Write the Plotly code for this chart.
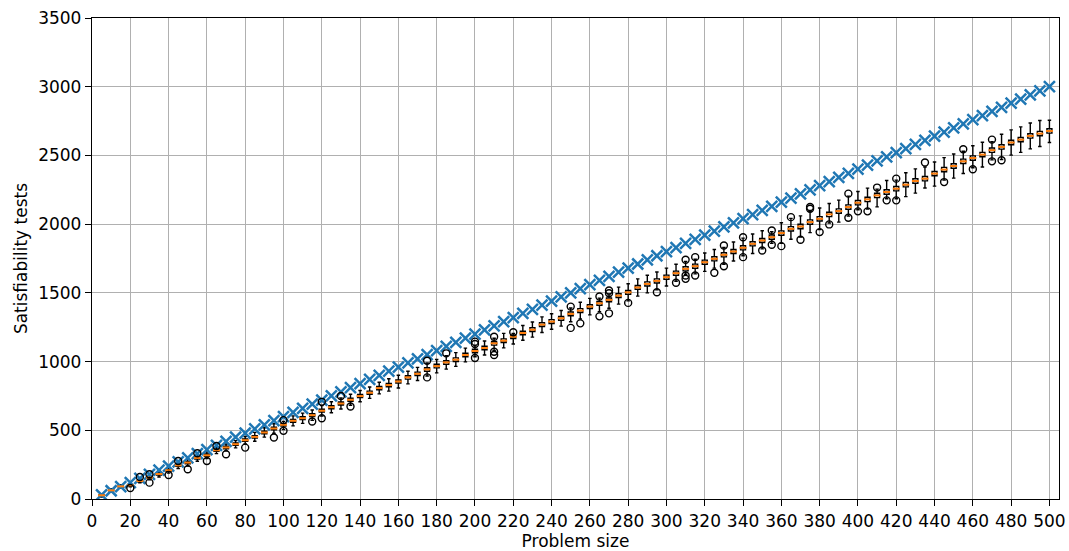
import plotly.graph_objects as go

sizes = [5, 10, 15, 20, 25, 30, 35, 40, 45, 50, 55, 60, 65, 70, 75, 80, 85, 90, 95, 100,
         105, 110, 115, 120, 125, 130, 135, 140, 145, 150, 155, 160, 165, 170, 175, 180, 185, 190, 195, 200,
         205, 210, 215, 220, 225, 230, 235, 240, 245, 250, 255, 260, 265, 270, 275, 280, 285, 290, 295, 300,
         305, 310, 315, 320, 325, 330, 335, 340, 345, 350, 355, 360, 365, 370, 375, 380, 385, 390, 395, 400,
         405, 410, 415, 420, 425, 430, 435, 440, 445, 450, 455, 460, 465, 470, 475, 480, 485, 490, 495, 500]

upper_bound = [30, 60, 90, 120, 150, 180, 210, 240, 270, 300, 330, 360, 390, 420, 450, 480, 510, 540, 570, 600,
               630, 660, 690, 720, 750, 780, 810, 840, 870, 900, 930, 960, 990, 1020, 1050, 1080, 1110, 1140, 1170, 1200,
               1230, 1260, 1290, 1320, 1350, 1380, 1410, 1440, 1470, 1500, 1530, 1560, 1590, 1620, 1650, 1680, 1710, 1740, 1770, 1800,
               1830, 1860, 1890, 1920, 1950, 1980, 2010, 2040, 2070, 2100, 2130, 2160, 2190, 2220, 2250, 2280, 2310, 2340, 2370, 2400,
               2430, 2460, 2490, 2520, 2550, 2580, 2610, 2640, 2670, 2700, 2730, 2760, 2790, 2820, 2850, 2880, 2910, 2940, 2970, 3000]

median = [27, 63, 92, 100, 131, 156, 182, 209, 245, 265, 299, 318, 355, 375, 399, 428, 452, 484, 513, 540,
          569, 588, 610, 642, 668, 695, 722, 749, 773, 807, 829, 855, 885, 911, 943, 967, 994, 1014, 1048, 1077,
          1099, 1133, 1152, 1181, 1208, 1232, 1269, 1291, 1315, 1347, 1371, 1400, 1424, 1449, 1480, 1504, 1539, 1565, 1587, 1614,
          1643, 1675, 1694, 1723, 1748, 1777, 1801, 1828, 1857, 1881, 1905, 1935, 1966, 1983, 2015, 2039, 2071, 2095, 2124, 2156,
          2180, 2209, 2234, 2258, 2287, 2314, 2331, 2368, 2397, 2423, 2457, 2481, 2506, 2538, 2562, 2594, 2615, 2642, 2659, 2678]

q1 = [23, 59, 87, 95, 126, 150, 175, 202, 238, 257, 291, 310, 347, 366, 391, 419, 443, 475, 504, 530,
      559, 578, 600, 632, 657, 684, 711, 738, 762, 795, 817, 843, 872, 898, 930, 954, 981, 1001, 1035, 1064,
      1086, 1120, 1139, 1168, 1195, 1218, 1255, 1277, 1301, 1333, 1357, 1386, 1410, 1435, 1466, 1490, 1525, 1550, 1572, 1599,
      1628, 1660, 1679, 1708, 1733, 1762, 1786, 1813, 1842, 1866, 1890, 1919, 1950, 1967, 1999, 2023, 2055, 2079, 2108, 2140,
      2164, 2193, 2218, 2242, 2271, 2298, 2315, 2352, 2381, 2407, 2441, 2465, 2490, 2522, 2546, 2578, 2599, 2626, 2643, 2662]

q3 = [31, 67, 96, 105, 137, 162, 189, 216, 253, 273, 307, 327, 364, 384, 408, 437, 461, 493, 522, 550,
      579, 598, 621, 653, 679, 706, 733, 760, 785, 819, 841, 867, 897, 923, 955, 980, 1007, 1027, 1061, 1090,
      1112, 1146, 1165, 1194, 1221, 1246, 1283, 1305, 1329, 1361, 1385, 1414, 1438, 1463, 1494, 1518, 1553, 1580, 1602, 1629,
      1658, 1690, 1709, 1738, 1763, 1792, 1816, 1843, 1872, 1896, 1921, 1951, 1982, 1999, 2031, 2055, 2087, 2111, 2140, 2172,
      2196, 2225, 2250, 2274, 2303, 2330, 2347, 2384, 2413, 2439, 2473, 2497, 2522, 2554, 2578, 2610, 2631, 2658, 2675, 2694]

whisker_low = [15, 52, 80, 88, 118, 140, 160, 188, 222, 240, 275, 295, 330, 350, 372, 400, 420, 450, 478, 505,
               532, 550, 572, 603, 628, 655, 682, 708, 732, 765, 785, 808, 838, 862, 895, 918, 945, 965, 998, 1035,
               1048, 1080, 1100, 1128, 1155, 1178, 1212, 1235, 1258, 1290, 1310, 1340, 1362, 1388, 1418, 1442, 1476, 1500, 1522, 1550,
               1585, 1635, 1638, 1656, 1680, 1708, 1732, 1770, 1786, 1820, 1860, 1860, 1890, 1906, 1938, 1960, 2008, 2015, 2058, 2105,
               2110, 2126, 2185, 2185, 2200, 2226, 2263, 2277, 2320, 2335, 2368, 2410, 2416, 2468, 2470, 2502, 2522, 2548, 2565, 2594]

whisker_high = [38, 75, 104, 112, 146, 172, 205, 232, 268, 290, 322, 343, 380, 400, 425, 455, 485, 518, 548, 565,
                605, 625, 648, 680, 708, 735, 762, 790, 815, 850, 875, 900, 930, 958, 990, 1015, 1042, 1065, 1098, 1115,
                1150, 1170, 1205, 1205, 1262, 1288, 1325, 1348, 1372, 1390, 1432, 1460, 1462, 1485, 1542, 1566, 1602, 1628, 1652, 1680,
                1708, 1728, 1745, 1790, 1816, 1830, 1870, 1898, 1928, 1952, 1945, 2010, 2042, 2060, 2092, 2118, 2150, 2175, 2204, 2237,
                2262, 2255, 2318, 2320, 2374, 2402, 2416, 2452, 2484, 2510, 2530, 2570, 2596, 2600, 2654, 2686, 2708, 2736, 2754, 2756]

outlier_x = [20, 25, 30, 30, 40, 45, 50, 55, 60, 65, 70, 80, 95, 100, 100, 115, 120, 120, 130, 135,
             175, 175, 185, 200, 200, 200, 210, 210, 210, 220, 250, 250, 255, 265, 265, 270, 270, 270, 280, 295,
             305, 310, 310, 310, 315, 315, 325, 330, 330, 340, 340, 350, 355, 355, 360, 365, 370, 375, 375, 380,
             385, 395, 395, 400, 405, 410, 415, 420, 420, 435, 445, 455, 460, 470, 470, 475]
outlier_y = [80, 160, 180, 119, 175, 277, 216, 333, 277, 386, 326, 374, 447, 574, 496, 564, 707, 588, 749, 673,
             1006, 885, 1060, 1145, 1128, 1026, 1181, 1072, 1048, 1213, 1400, 1245, 1278, 1473, 1329, 1517, 1497, 1351, 1427, 1504,
             1573, 1741, 1626, 1602, 1760, 1626, 1646, 1845, 1694, 1905, 1760, 1808, 1954, 1850, 1840, 2051, 1886, 2112, 2125, 1942,
             1998, 2222, 2047, 2093, 2093, 2266, 2173, 2331, 2173, 2448, 2306, 2545, 2399, 2615, 2457, 2465]

x_ticks = list(range(0, 501, 20))
y_ticks = [0, 500, 1000, 1500, 2000, 2500, 3000, 3500]

fig = go.Figure()

fig.add_trace(go.Scatter(
    x=sizes, y=upper_bound, mode="markers",
    marker=dict(symbol="x-thin", size=11, line=dict(color="#1f77b4", width=2.5), color="#1f77b4"),
    showlegend=False, hoverinfo="skip"))

fig.add_trace(go.Box(
    x=sizes, q1=q1, median=median, q3=q3,
    lowerfence=whisker_low, upperfence=whisker_high,
    boxpoints=False, width=2.6, whiskerwidth=0.7,
    line=dict(color="black", width=1.4), fillcolor="rgba(255,255,255,0)",
    showlegend=False))

fig.add_trace(go.Scatter(
    x=sizes, y=median, mode="markers",
    marker=dict(symbol="line-ew", size=5, line=dict(color="#ff7f0e", width=2)),
    showlegend=False, hoverinfo="skip"))

fig.add_trace(go.Scatter(
    x=outlier_x, y=outlier_y, mode="markers",
    marker=dict(symbol="circle-open", size=7, color="black", line=dict(width=1.4)),
    showlegend=False, hoverinfo="skip"))

axis_common = dict(
    showline=True, linecolor="black", linewidth=1.4, mirror=True,
    ticks="outside", ticklen=6, tickcolor="black", tickwidth=1.4,
    showgrid=True, gridcolor="#b0b0b0", gridwidth=1.3, zeroline=False,
    automargin=False,
    tickfont=dict(family="DejaVu Sans", size=17, color="black"),
)

fig.update_layout(
    template="none",
    width=1069, height=551,
    margin=dict(l=92, r=10, t=18, b=52, pad=0),
    paper_bgcolor="white", plot_bgcolor="white",
    font=dict(family="DejaVu Sans", size=17, color="black"),
    xaxis=dict(range=[0, 505], tickvals=x_ticks, ticktext=[str(v) for v in x_ticks],
               title=dict(text="Problem size", standoff=4, font=dict(size=17)), **axis_common),
    yaxis=dict(range=[0, 3500], tickvals=y_ticks, ticktext=[str(v) for v in y_ticks],
               title=dict(text="Satisfiability tests", standoff=6, font=dict(size=17)), **axis_common),
)

fig.write_html("out.html")
